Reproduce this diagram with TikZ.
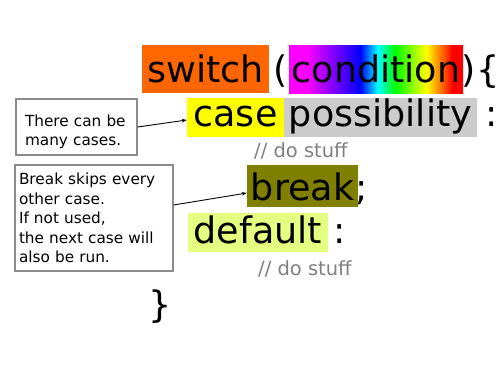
\documentclass[tikz,border=0pt]{standalone}
\usepackage{fontspec}
\setmainfont{DejaVu Sans}
\usetikzlibrary{arrows.meta, positioning}
\definecolor{kworange}{HTML}{FF6600}
\definecolor{kwyellow}{HTML}{FFFF00}
\definecolor{kwgray}{HTML}{CCCCCC}
\definecolor{kwolive}{HTML}{808000}
\definecolor{kwlime}{HTML}{E5FF80}
\definecolor{cmtgray}{HTML}{808080}
\definecolor{noteborder}{HTML}{8C8C8C}

% rainbow fill for the condition
\pgfdeclarehorizontalshading{rainbow}{100bp}{color(0bp)=(magenta); color(30bp)=(magenta);
  color(45.5bp)=(blue); color(50.5bp)=(cyan); color(55.5bp)=(green); color(64.5bp)=(yellow);
  color(72bp)=(red); color(100bp)=(red)}

\begin{document}
\begin{tikzpicture}[x=1pt, y=-1pt,
  kwbox/.style={inner sep=0pt, text depth=0pt, font=\fontsize{36.5}{40}\selectfont},
  punct/.style={anchor=base west, inner sep=0pt, font=\fontsize{36.5}{40}\selectfont},
  comment/.style={anchor=base west, inner sep=0pt, text=cmtgray, font=\fontsize{19.5}{22}\selectfont},
  note/.style={draw=noteborder, line width=1.2pt, align=left, font=\fontsize{15.3}{19.5}\selectfont},
  pointer/.style={-{Stealth[length=5pt, width=3.5pt]}, line width=0.9pt}]

% Background
\fill[white] (0,0) rectangle (500,380);
\useasboundingbox (0,0) rectangle (500,380);

% switch (condition) {
\node[kwbox, fill=kworange, minimum width=127pt, minimum height=48pt, text height=26pt] (switch) at (205.5,69) {switch};
\node[punct] (lparen) at (273.5,82) {(};
\node[kwbox, shading=rainbow, minimum width=174pt, minimum height=48pt, text height=26pt] (cond) at (376,69) {condition};
\node[punct] (rparen) at (461,82) {)};
\node[punct] (lbrace) at (476,82) {\{};

% case possibility :
\node[kwbox, fill=kwyellow, minimum width=97pt, minimum height=39pt, text height=17pt] (case) at (235.5,117.5) {case};
\node[kwbox, fill=kwgray, minimum width=193pt, minimum height=39pt, text height=17pt] (poss) at (380.5,117.5) {possibility};
\node[punct] (colonA) at (485,126) {:};
\node[comment] (stuffA) at (254,157) {// do stuff};

% break;
\node[kwbox, fill=kwolive, minimum width=111pt, minimum height=42pt, text height=28pt] (brk) at (302.5,186) {break};
\node[punct] (semi) at (355,200) {;};

% default :
\node[kwbox, fill=kwlime, minimum width=140pt, minimum height=39pt, text height=21pt] (default) at (258,232.5) {default};
\node[punct] (colonB) at (333,243) {:};
\node[comment] (stuffB) at (258,275) {// do stuff};

\node[punct] (rbrace) at (148,317) {\}};

% Side notes
\node[note, text width=103pt, inner xsep=9pt, minimum height=56pt] (noteA) at (76.5,127)
  {\rule{0pt}{21pt}There can be\\many cases.};
\node[note, text width=150pt, inner xsep=4pt, minimum height=106pt] (noteB) at (94,218)
  {Break skips every\\other case.\\If not used,\\the next case will\\also be run.};

\draw[pointer] (noteA.east) -- ([yshift=-2.5pt]case.west);
\draw[pointer] ([yshift=13pt]noteB.east) -- ([yshift=-7pt]brk.west);

\end{tikzpicture}
\end{document}
